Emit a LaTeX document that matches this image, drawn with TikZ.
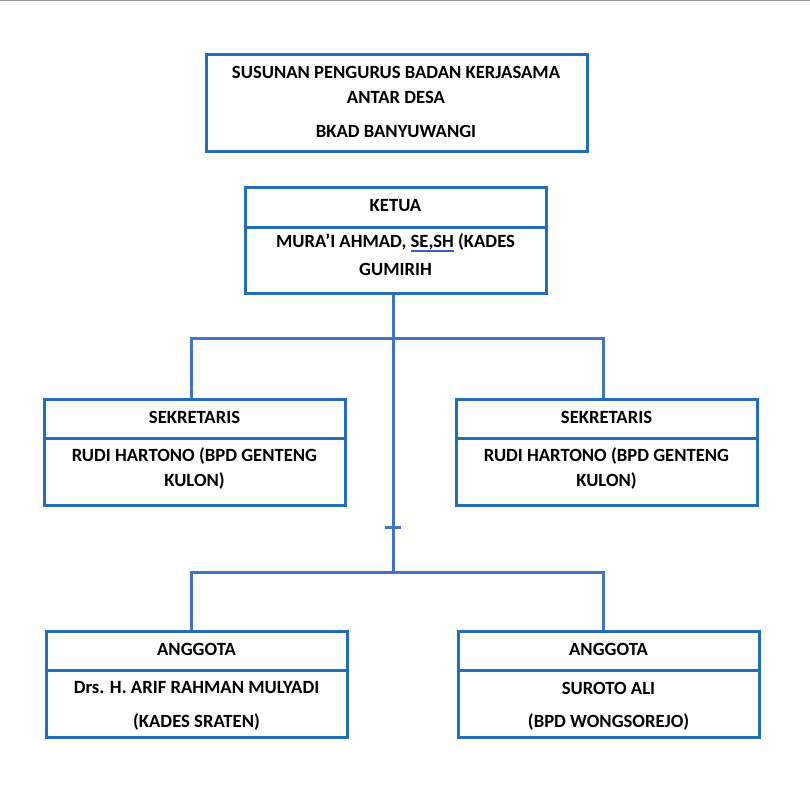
\documentclass[tikz,border=0pt]{standalone}
\usepackage{fontspec}
\setmainfont{Carlito}
\definecolor{boxblue}{RGB}{36,110,182}
\definecolor{linkblue}{RGB}{70,114,196}
\definecolor{ulblue}{RGB}{60,90,200}
\definecolor{topgray}{RGB}{150,150,150}
\newsavebox{\ulbox}
\newcommand\dblul[1]{\sbox{\ulbox}{#1}\rlap{\textcolor{ulblue}{\rule[-1.9pt]{\wd\ulbox}{0.4pt}}}\rlap{\textcolor{ulblue}{\rule[-3.1pt]{\wd\ulbox}{0.4pt}}}\usebox{\ulbox}}
\tikzset{
  orgbox/.style={draw=boxblue, line width=2.25pt, minimum width=225.75pt, minimum height=79.5pt, inner sep=0pt},
  divline/.style={draw=boxblue, line width=2.25pt},
  link/.style={draw=linkblue, line width=2.25pt},
  txt/.style={font=\bfseries\fontsize{14}{17}\selectfont, inner sep=0pt, align=center}
}
\begin{document}
\begin{tikzpicture}[x=0.75pt,y=-0.75pt]
\useasboundingbox (0,0) rectangle (810,786);
\fill[white] (0,0) rectangle (810,786);
\draw[topgray, line width=1pt] (0,0.7) -- (810,0.7);

% title box
\node[orgbox, minimum width=285.75pt, minimum height=72.75pt] (title) at (396.5,102.5) {};
\node[txt] (t1) at (396,72) {SUSUNAN PENGURUS BADAN KERJASAMA};
\node[txt] (t2) at (396,97) {ANTAR DESA};
\node[txt] (t3) at (396,131) {BKAD BANYUWANGI};

% ketua
\node[orgbox] (ketua) at (395.5,240) {};
\draw[divline] (ketua.west |- 0,227) -- (ketua.east |- 0,227);
\node[txt] (k1) at (395.5,206) {KETUA};
\node[txt] (k2) at (395.5,243) {MURA’I AHMAD, \dblul{SE,SH} (KADES};
\node[txt] (k3) at (395.5,269) {GUMIRIH};

% sekretaris left
\node[orgbox] (sekL) at (194.5,452) {};
\draw[divline] (sekL.west |- 0,438) -- (sekL.east |- 0,438);
\node[txt] (sl1) at (194.5,417) {SEKRETARIS};
\node[txt] (sl2) at (194.5,456) {RUDI HARTONO (BPD GENTENG};
\node[txt] (sl3) at (194.5,481) {KULON)};

% sekretaris right
\node[orgbox] (sekR) at (606.5,452) {};
\draw[divline] (sekR.west |- 0,438) -- (sekR.east |- 0,438);
\node[txt] (sr1) at (606.5,417) {SEKRETARIS};
\node[txt] (sr2) at (606.5,456) {RUDI HARTONO (BPD GENTENG};
\node[txt] (sr3) at (606.5,481) {KULON)};

% anggota left
\node[orgbox] (angL) at (196.5,684) {};
\draw[divline] (angL.west |- 0,670) -- (angL.east |- 0,670);
\node[txt] (al1) at (196.5,649) {ANGGOTA};
\node[txt] (al2) at (196.5,688) {Drs. H. ARIF RAHMAN MULYADI};
\node[txt] (al3) at (196.5,722) {(KADES SRATEN)};

% anggota right
\node[orgbox] (angR) at (608.5,684) {};
\draw[divline] (angR.west |- 0,670) -- (angR.east |- 0,670);
\node[txt] (ar1) at (608.5,649) {ANGGOTA};
\node[txt] (ar2) at (608.5,688) {SUROTO ALI};
\node[txt] (ar3) at (608.5,722) {(BPD WONGSOREJO)};

% connectors
\coordinate (j1) at (393,338);
\coordinate (j2) at (393,572);
\coordinate (tk) at (393,527);
\draw[link] (ketua.south -| j1) -- (j2);
\draw[link] ([xshift=-2.6pt]sekL.north) |- (j1) -| ([xshift=-2.6pt]sekR.north);
\draw[link] ([xshift=-4pt]angL.north) |- (j2) -| ([xshift=-4pt]angR.north);
\draw[link] ([xshift=-6pt]tk) -- ([xshift=6pt]tk);
\end{tikzpicture}
\end{document}
